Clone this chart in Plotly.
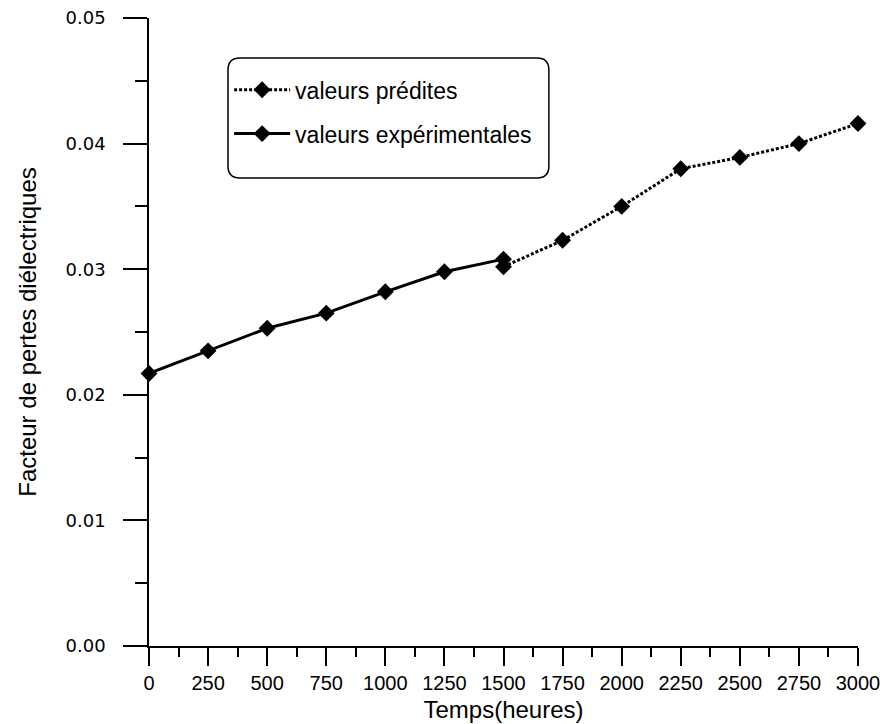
import plotly.graph_objects as go

# Temps de vieillissement (heures)
temps_exp = [0, 250, 500, 750, 1000, 1250, 1500]
temps_pred = [1500, 1750, 2000, 2250, 2500, 2750, 3000]

# Facteur de pertes diélectriques (tan delta)
pertes_exp = [0.0217, 0.0235, 0.0253, 0.0265, 0.0282, 0.0298, 0.0308]
pertes_pred = [0.0302, 0.0323, 0.0350, 0.0380, 0.0389, 0.0400, 0.0416]

x_ticks = [0, 250, 500, 750, 1000, 1250, 1500, 1750, 2000, 2250, 2500, 2750, 3000]
y_ticks = [0.00, 0.01, 0.02, 0.03, 0.04, 0.05]

fig = go.Figure()

fig.add_trace(go.Scatter(
    x=temps_pred, y=pertes_pred,
    mode="lines+markers",
    name="valeurs prédites",
    legendgroup="pred",
    line=dict(color="black", width=3, dash="3px,2px"),
    marker=dict(symbol="diamond", size=13, color="black"),
    cliponaxis=False,
))

fig.add_trace(go.Scatter(
    x=temps_exp, y=pertes_exp,
    mode="lines+markers",
    name="valeurs expérimentales",
    legendgroup="exp",
    line=dict(color="black", width=3),
    marker=dict(symbol="diamond", size=13, color="black"),
    cliponaxis=False,
))

# rounded frame around the legend (paper coordinates)
x0, x1 = 0.1114, 0.564
y0, y1 = 0.7452, 0.9363
rx, ry = 0.0169, 0.0191
path = (
    f"M{x0 + rx},{y1} L{x1 - rx},{y1} Q{x1},{y1} {x1},{y1 - ry} "
    f"L{x1},{y0 + ry} Q{x1},{y0} {x1 - rx},{y0} "
    f"L{x0 + rx},{y0} Q{x0},{y0} {x0},{y0 + ry} "
    f"L{x0},{y1 - ry} Q{x0},{y1} {x0 + rx},{y1} Z"
)
fig.add_shape(type="path", path=path, xref="paper", yref="paper",
              line=dict(color="black", width=1.5), fillcolor="rgba(0,0,0,0)")

fig.update_layout(
    width=887, height=724,
    margin=dict(l=149, r=29, t=18, b=78, autoexpand=False),
    paper_bgcolor="white", plot_bgcolor="white",
    showlegend=True,
    legend=dict(
        x=0.113, y=0.92, xanchor="left", yanchor="top",
        bgcolor="rgba(0,0,0,0)", borderwidth=0,
        font=dict(family="Liberation Sans", size=23, color="black"),
        itemwidth=56, tracegroupgap=11, traceorder="grouped",
    ),
)

fig.update_xaxes(
    range=[0, 3000], automargin=False,
    tickmode="array", tickvals=x_ticks, ticktext=[str(v) for v in x_ticks],
    ticks="outside", ticklen=18, tickwidth=1.5, tickcolor="black",
    minor=dict(ticks="outside", dtick=125, tick0=0, ticklen=9, tickwidth=1.5, tickcolor="black"),
    showline=True, linecolor="black", linewidth=1.5,
    showgrid=False, zeroline=False,
    tickfont=dict(family="Liberation Sans", size=20, color="black"),
    ticklabelstandoff=0,
    title=dict(text="Temps(heures)", standoff=8,
               font=dict(family="Liberation Sans", size=24, color="black")),
)

fig.update_yaxes(
    range=[0, 0.05], automargin=False,
    tickmode="array", tickvals=y_ticks, ticktext=[f"{v:.2f}" for v in y_ticks],
    ticks="outside", ticklen=24, tickwidth=1.5, tickcolor="black",
    minor=dict(ticks="outside", dtick=0.005, tick0=0, ticklen=12, tickwidth=1.5, tickcolor="black"),
    showline=True, linecolor="black", linewidth=1.5,
    showgrid=False, zeroline=False,
    tickfont=dict(family="DejaVu Sans", size=18, color="black"),
    ticklabelstandoff=14,
    title=dict(text="Facteur de pertes diélectriques", standoff=22,
               font=dict(family="Liberation Sans", size=24, color="black")),
)

fig.write_html("out.html")
